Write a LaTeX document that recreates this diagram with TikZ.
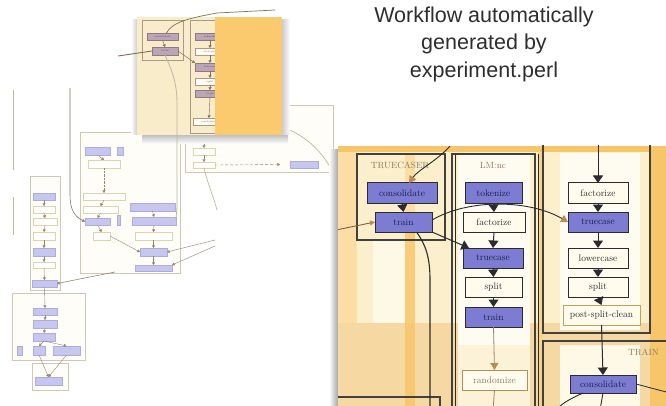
\documentclass[tikz,border=0pt]{standalone}
\usepackage{fontspec}
\newfontfamily\titlefont{Liberation Sans}
\usetikzlibrary{arrows.meta}
\definecolor{pblue}{HTML}{7C7CD2}
\definecolor{pbluetext}{HTML}{1C1C48}
\definecolor{pwhite}{HTML}{FFFCEE}
\definecolor{pline}{HTML}{2B2B2B}
\definecolor{tanc}{HTML}{B48E55}
\definecolor{cream}{HTML}{FCEFCB}
\definecolor{lightcream}{HTML}{FEF8E6}
\definecolor{orng}{HTML}{F8C66A}
\definecolor{beige}{HTML}{F6D9A2}
\definecolor{fblue}{HTML}{C6C6EF}
\definecolor{fblueD}{HTML}{ADADDB}
\definecolor{fwhiteD}{HTML}{DDD4AC}
\definecolor{fline}{HTML}{BDB6A2}
\definecolor{fboxc}{HTML}{CFC8B4}
\definecolor{farrow}{HTML}{8F8773}
\definecolor{icream}{HTML}{F8ECCB}
\definecolor{iorange}{HTML}{FCCA6E}
\definecolor{mauve}{HTML}{BBA5B6}
\definecolor{mauveD}{HTML}{8D7B82}
\definecolor{iline}{HTML}{7F7155}
\definecolor{titlec}{HTML}{2E2E2E}
\definecolor{boxlabel}{HTML}{8A7A5E}
\definecolor{pscline}{HTML}{C2A253}
\begin{document}
\begin{tikzpicture}[x=1pt,y=-1pt,
  R/.style n args={4}{anchor=north west,at={(#1,#2)},minimum width={(#3)-(#1)},minimum height={(#4)-(#2)},inner sep=0pt,outer sep=0pt},
  fbox/.style={draw=fboxc,fill=white!70!lightcream,line width=0.6pt},
  fb/.style={draw=fblueD,fill=fblue,line width=0.4pt},
  fw/.style={draw=fwhiteD,fill=white,line width=0.5pt},
  fa/.style={draw=farrow,line width=0.4pt,-{Triangle[length=2.6pt,width=3pt]}},
  fl/.style={draw=fline,line width=0.6pt},
  ibox/.style={draw=iline!70,line width=0.6pt},
  im/.style={draw=mauveD,fill=mauve,line width=0.4pt,font=\fontsize{2.5}{3}\selectfont,text=mauveD!60!black},
  iw/.style={draw=iline!70,fill=white!80!icream,line width=0.4pt,font=\fontsize{2.5}{3}\selectfont,text=iline},
  ia/.style={draw=iline,line width=0.45pt,-{Triangle[length=2.6pt,width=3pt]}},
  il/.style={draw=iline,line width=0.7pt},
  pbox/.style={draw=pline!90,line width=1.2pt},
  pb/.style={draw=pline,fill=pblue,line width=1pt,font=\fontsize{9.5}{10}\selectfont,text=pbluetext},
  pw/.style={draw=pline,fill=pwhite,line width=1pt,font=\fontsize{9.5}{10}\selectfont,text=pline},
  pa/.style={draw=pline,line width=1pt,-{Triangle[length=7.5pt,width=10pt]}},
  ta/.style={draw=pline,line width=0.9pt,-{Triangle[length=7pt,width=8pt,color=tanc]}},
  pl/.style={draw=pline,line width=1pt},
  blabel/.style={font=\fontsize{9}{10}\selectfont,text=boxlabel,inner sep=0pt}
]
\useasboundingbox (0,0) rectangle (666,406);
\fill[white] (0,0) rectangle (666,406);

% ---------------- faint overview diagram ----------------
\draw[fl] (13,90) -- (13,170);
\draw[fl] (13,197) -- (13,235);
\node[fbox,R={80}{132}{180}{273}] (mbox) {};
\node[fbox,R={185}{105}{333}{172}] (rbox) {};
\node[fbox,R={30}{176}{60}{290}] (cbox) {};
\node[fbox,R={12}{293}{85}{360}] (lbox) {};
\node[fbox,R={32}{363}{68}{390}] (bbox) {};

\node[fb,R={85}{147}{110}{155}] (m1) {};
\node[fb,R={117}{147}{123}{155}] (m1b) {};
\node[fw,R={88}{160}{120}{168}] (m2) {};
\node[fw,R={83}{193}{125}{200}] (m3) {};
\node[fw,R={83}{206}{118}{213}] (m4) {};
\node[fb,R={85}{218}{110}{225}] (m5) {};
\node[fb,R={117}{215}{120}{225}] (m5b) {};
\node[fw,R={93}{232}{110}{240}] (m6) {};
\node[fb,R={130}{203}{175}{211}] (m7) {};
\node[fb,R={132}{217}{176}{225}] (m8) {};
\node[fw,R={135}{232}{172}{240}] (m9) {};
\node[fb,R={140}{248}{167}{256}] (m10) {};
\node[fb,R={135}{265}{172}{271}] (m11) {};
\draw[fa] (m1.south) -- (m2.north);
\draw[fa,densely dotted] (m2.south) -- (m3.north);
\draw[fa] (m3.south) -- (m4.north);
\draw[fa] (m4.south) -- (m5.north);
\draw[fa] (m5.south) -- (m6.north);
\draw[fa] (m7.south) -- (m8.north);
\draw[fa] (m8.south) -- (m9.north);
\draw[fa] (m9.south) -- (m10.north);
\draw[fa] (m10.south) -- (m11.north);
\draw[fa] (m6.east) -- (m10.west);
\coordinate (lin1) at (70,88);
\draw[fa,draw=farrow!90!black,line width=0.6pt] (lin1) -- (70,195) .. controls (70,210) and (75,217) .. (m5.west);
\coordinate (rin1) at (215,240);
\coordinate (rin2) at (215,246);
\draw[fa] (rin1) -- (m10.east);
\draw[fa] (rin2) -- (m11.north east);

\node[fw,R={193}{148}{215}{155}] (r1) {};
\node[fw,R={193}{162}{215}{168}] (r2) {};
\node[fb,R={290}{161}{318}{168}] (r3) {};
\coordinate (rtop) at (204,135);
\draw[fa] (rtop) -- (r1.north);
\draw[fa] (r1.south) -- (r2.north);
\coordinate (rc1) at (290,130);
\draw[fl,line width=0.7pt] (rc1) .. controls (310,140) and (322,152) .. (rbox.south east);
\draw[fa,densely dashed] (r2.east) -- ([xshift=-10pt]r3.west);
\coordinate (rd) at (217,210);
\draw[fl,line width=0.7pt] (r2.south) .. controls (208,185) and (214,198) .. (rd);

\node[fb,R={33}{193}{55}{200}] (c1) {};
\node[fw,R={33}{206}{55}{213}] (c2) {};
\node[fw,R={33}{218}{57}{225}] (c3) {};
\node[fw,R={33}{232}{55}{240}] (c4) {};
\node[fb,R={33}{248}{55}{256}] (c5) {};
\node[fw,R={33}{262}{55}{268}] (c6) {};
\node[fb,R={32}{280}{57}{287}] (c7) {};
\draw[fa] (c1.south) -- (c2.north);
\draw[fa] (c2.south) -- (c3.north);
\draw[fa] (c3.south) -- (c4.north);
\draw[fa] (c4.south) -- (c5.north);
\draw[fa] (c5.south) -- (c6.north);
\draw[fa] (c6.south) -- (c7.north);
\coordinate (cin) at (115,272);
\draw[fa,line width=0.6pt] (cin) -- (c7.east);

\node[fb,R={33}{308}{57}{315}] (l1) {};
\node[fb,R={33}{320}{57}{328}] (l2) {};
\node[fb,R={33}{333}{55}{341}] (l3) {};
\node[fb,R={33}{346}{45}{355}] (l4) {};
\node[fb,R={53}{346}{80}{355}] (l5) {};
\node[fb,R={17}{346}{22}{355}] (l6) {};
\node[fb,R={35}{377}{62}{385}] (b1) {};
\draw[fa] (c7.south) -- (l1.north);
\draw[fa] (l1.south) -- (l2.north);
\draw[fa] (l2.south) -- (l3.north);
\draw[fa] (l3.south) -- (l4.north);
\draw[fa] (l3.south) -- (l5.north);
\draw[fa] (l4.south) -- (b1.north);
\draw[fa] (l5.south) -- (b1.north);

% ---------------- small inset (lens) ----------------
\shade[top color=gray!55,bottom color=white] (142,134) rectangle (288,144);
\shade[left color=white,right color=gray!45] (131,20) rectangle (138,135);
\shade[left color=gray!45,right color=white] (281,20) rectangle (290,135);
\node[R={137}{17}{215}{135},fill=icream] (inset) {};
\node[ibox,R={142}{20}{183}{60}] (itbox) {};
\node[ibox,R={190}{20}{232}{133}] (ilbox) {};
\node[im,R={147}{33}{178}{40}] (icons) {consolidate};
\node[im,R={152}{47}{178}{55}] (itrain) {train};
\node[im,R={195}{33}{225}{40}] (itok) {tokenize};
\node[iw,R={195}{48}{225}{55}] (ifac) {factorize};
\node[im,R={195}{63}{225}{71}] (itc) {truecase};
\node[iw,R={195}{78}{225}{85}] (isplit) {split};
\node[im,R={195}{90}{225}{97}] (itrain2) {train};
\node[iw,R={193}{118}{225}{125}] (irand) {randomize};
\draw[ia] (icons.south) -- (itrain.north);
\draw[ia] (itok.south) -- (ifac.north);
\draw[ia] (ifac.south) -- (itc.north);
\draw[ia] (itc.south) -- (isplit.north);
\draw[ia] (isplit.south) -- (itrain2.north);
\draw[ia] (itrain2.south) -- (irand.north);
\draw[ia] (itrain.east) -- (itc.north west);
\coordinate (itop) at (217,13);
\coordinate (itop2) at (275,10);
\draw[il] (itop2) -- (itop) .. controls (190,18) and (172,22) .. ([xshift=4pt]icons.north);
\coordinate (ileft) at (118,56);
\draw[il,line width=0.9pt] (ileft) -- (itrain.west);
\node[R={215}{17}{282}{135},fill=iorange] (lens) {};
\draw[fl,line width=0.8pt] (itrain.south) .. controls (174,75) and (177,85) .. (177,105) -- (177,205) .. controls (177,212) and (176,215) .. (m8.east);

% ---------------- title ----------------
\node[font=\titlefont\fontsize{21.5}{27.5}\selectfont,text=titlec,align=center,inner sep=0pt] (title) at (484,44) {Workflow automatically\\generated by\\experiment.perl};

% ---------------- big magnified panel ----------------
\shade[left color=white,right color=gray!70] (329,150) rectangle (338,406);
\begin{scope}
\clip (338,146) rectangle (666,406);
\fill[cream] (338,146) rectangle (666,406);
\fill[orng!60] (338,146) rectangle (357,406);
\fill[beige] (338,323) rectangle (666,406);
\fill[lightcream] (373,240) rectangle (405,323);
\fill[white!40!lightcream] (458,153) rectangle (530,345);
\fill[lightcream!80!beige] (458,345) rectangle (530,406);
\fill[white!40!lightcream] (560,153) rectangle (640,330);
\fill[lightcream] (560,345) rectangle (640,406);
\fill[orng,opacity=0.85] (405,232) rectangle (415,406);
\fill[orng,opacity=0.4] (405,153) rectangle (415,232);
\fill[orng!80] (538,146) rectangle (543,406);
\fill[orng] (650,146) rectangle (666,406);
\fill[orng] (338,146) rectangle (666,152);

\node[pbox,R={357}{154}{445}{240}] (tbox) {};
\node[pbox,R={452}{154}{535}{420}] (lmbox) {};
\node[pbox,R={543}{135}{650}{333}] (rcbox) {};
\node[pbox,R={543}{341}{690}{420}] (trbox) {};
\node[pbox,R={320}{397}{440}{420}] (blbox) {};
\draw[pl,line width=0.8pt] (lmbox.north east) ++(3,0) -- ++(0,270);
\draw[pl,line width=0.6pt] (lmbox.north west) ++(3,0) -- ++(0,270);

\node[blabel] (tlab) at (400,165) {TRUECASER};
\node[blabel] (llab) at (493,165) {LM:nc};
\node[blabel,anchor=west] (trlab) at (628,352) {TRAIN};

\node[pb,R={367}{183}{437}{203}] (tcons) {consolidate};
\node[pb,R={375}{212}{432}{232}] (ttrain) {train};
\node[pb,R={465}{183}{522}{203}] (ltok) {tokenize};
\node[pw,R={463}{212}{525}{232}] (lfac) {factorize};
\node[pb,R={463}{248}{523}{268}] (ltc) {truecase};
\node[pw,R={465}{277}{522}{297}] (lsplit) {split};
\node[pb,R={465}{307}{522}{327}] (ltrain) {train};
\node[pw,draw=tanc,text=boxlabel,R={462}{370}{527}{390}] (lrand) {randomize};
\node[pw,R={568}{183}{628}{203}] (rfac) {factorize};
\node[pb,R={568}{212}{628}{232}] (rtc) {truecase};
\node[pw,R={568}{248}{628}{268}] (rlow) {lowercase};
\node[pw,R={568}{277}{628}{297}] (rsplit) {split};
\node[pw,draw=pscline,R={563}{305}{640}{325}] (rpsc) {post-split-clean};
\node[pb,R={570}{375}{636}{393}] (ncons) {consolidate};

\coordinate (ptop) at (598,140);
\draw[pa] (ptop) -- (rfac.north);
\draw[pa] (rfac.south) -- (rtc.north);
\draw[pa] (rtc.south) -- (rlow.north);
\draw[pa] (rlow.south) -- (rsplit.north);
\draw[pa] (rsplit.south) -- (rpsc.north);
\draw[pa] (rpsc.south) -- (ncons.north);
\draw[pa] (ltok.south) -- (lfac.north);
\draw[pa] (lfac.south) -- (ltc.north);
\draw[pa] (ltc.south) -- (lsplit.north);
\draw[pa] (lsplit.south) -- (ltrain.north);
\draw[pa] (tcons.south) -- (ttrain.north);
\draw[pa] (ttrain.south east) -- ([xshift=6pt]ltc.north west);
\draw[draw=gray!60!tanc,line width=0.8pt,-{Triangle[length=7pt,width=8pt,color=tanc]}] (ltrain.south) -- (lrand.north);
\draw[ta] ([yshift=-8pt]ttrain.north east) .. controls (470,198) and (530,200) .. (rtc.west);
\coordinate (pin1) at (450,146);
\draw[ta] (pin1) .. controls (438,160) and (418,170) .. ([xshift=7pt]tcons.north);
\coordinate (pin2) at (336,230);
\draw[draw=tanc!70!black,line width=0.9pt,-{Triangle[length=5pt,width=5pt,color=tanc]}] (pin2) -- (ttrain.west);
\coordinate (pdown) at (430,410);
\draw[pl,line width=1.1pt] ([xshift=13pt]ttrain.south) .. controls (426,245) and (430,258) .. (430,280) -- (pdown);
\coordinate (pout1) at (670,393);
\draw[pl,line width=0.8pt] (ncons.east) -- (pout1);
\coordinate (pout2) at (556,410);
\draw[pl,line width=0.9pt] ([xshift=-20pt]ncons.south) .. controls (572,398) and (562,403) .. (pout2);
\coordinate (pout3) at (600,410);
\draw[pl,line width=0.9pt] (ncons.south) -- (pout3);
\coordinate (pout4) at (493,410);
\draw[draw=gray!60!tanc,line width=0.8pt] (lrand.south) -- (pout4);
\end{scope}
\end{tikzpicture}
\end{document}
